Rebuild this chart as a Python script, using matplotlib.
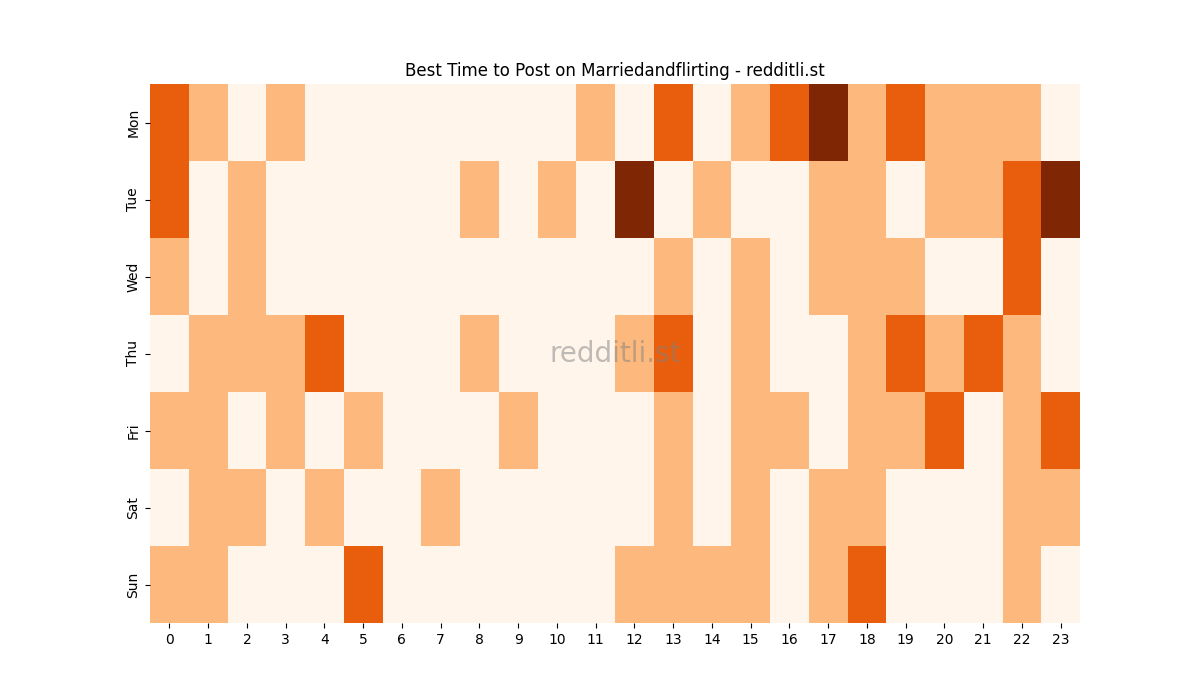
import matplotlib
matplotlib.use("Agg")
import matplotlib.pyplot as plt
import seaborn as sns
import numpy as np

days = ["Mon", "Tue", "Wed", "Thu", "Fri", "Sat", "Sun"]
hours = list(range(24))

mon = [2, 1, 0, 1, 0, 0, 0, 0, 0, 0, 0, 1, 0, 2, 0, 1, 2, 3, 1, 2, 1, 1, 1, 0]
tue = [2, 0, 1, 0, 0, 0, 0, 0, 1, 0, 1, 0, 3, 0, 1, 0, 0, 1, 1, 0, 1, 1, 2, 3]
wed = [1, 0, 1, 0, 0, 0, 0, 0, 0, 0, 0, 0, 0, 1, 0, 1, 0, 1, 1, 1, 0, 0, 2, 0]
thu = [0, 1, 1, 1, 2, 0, 0, 0, 1, 0, 0, 0, 1, 2, 0, 1, 0, 0, 1, 2, 1, 2, 1, 0]
fri = [1, 1, 0, 1, 0, 1, 0, 0, 0, 1, 0, 0, 0, 1, 0, 1, 1, 0, 1, 1, 2, 0, 1, 2]
sat = [0, 1, 1, 0, 1, 0, 0, 1, 0, 0, 0, 0, 0, 1, 0, 1, 0, 1, 1, 0, 0, 0, 1, 1]
sun = [1, 1, 0, 0, 0, 2, 0, 0, 0, 0, 0, 0, 1, 1, 1, 1, 0, 1, 2, 0, 0, 0, 1, 0]

data = np.array([mon, tue, wed, thu, fri, sat, sun])

fig, ax = plt.subplots(figsize=(12, 7), dpi=100)
sns.heatmap(data, cmap="Oranges", cbar=False, xticklabels=hours,
            yticklabels=days, ax=ax)
ax.set_title("Best Time to Post on Marriedandflirting - redditli.st")
ax.text(0.5, 0.5, "redditli.st", transform=ax.transAxes, ha="center",
        va="center", fontsize=20, color="grey", alpha=0.5)

plt.savefig("out.png")
